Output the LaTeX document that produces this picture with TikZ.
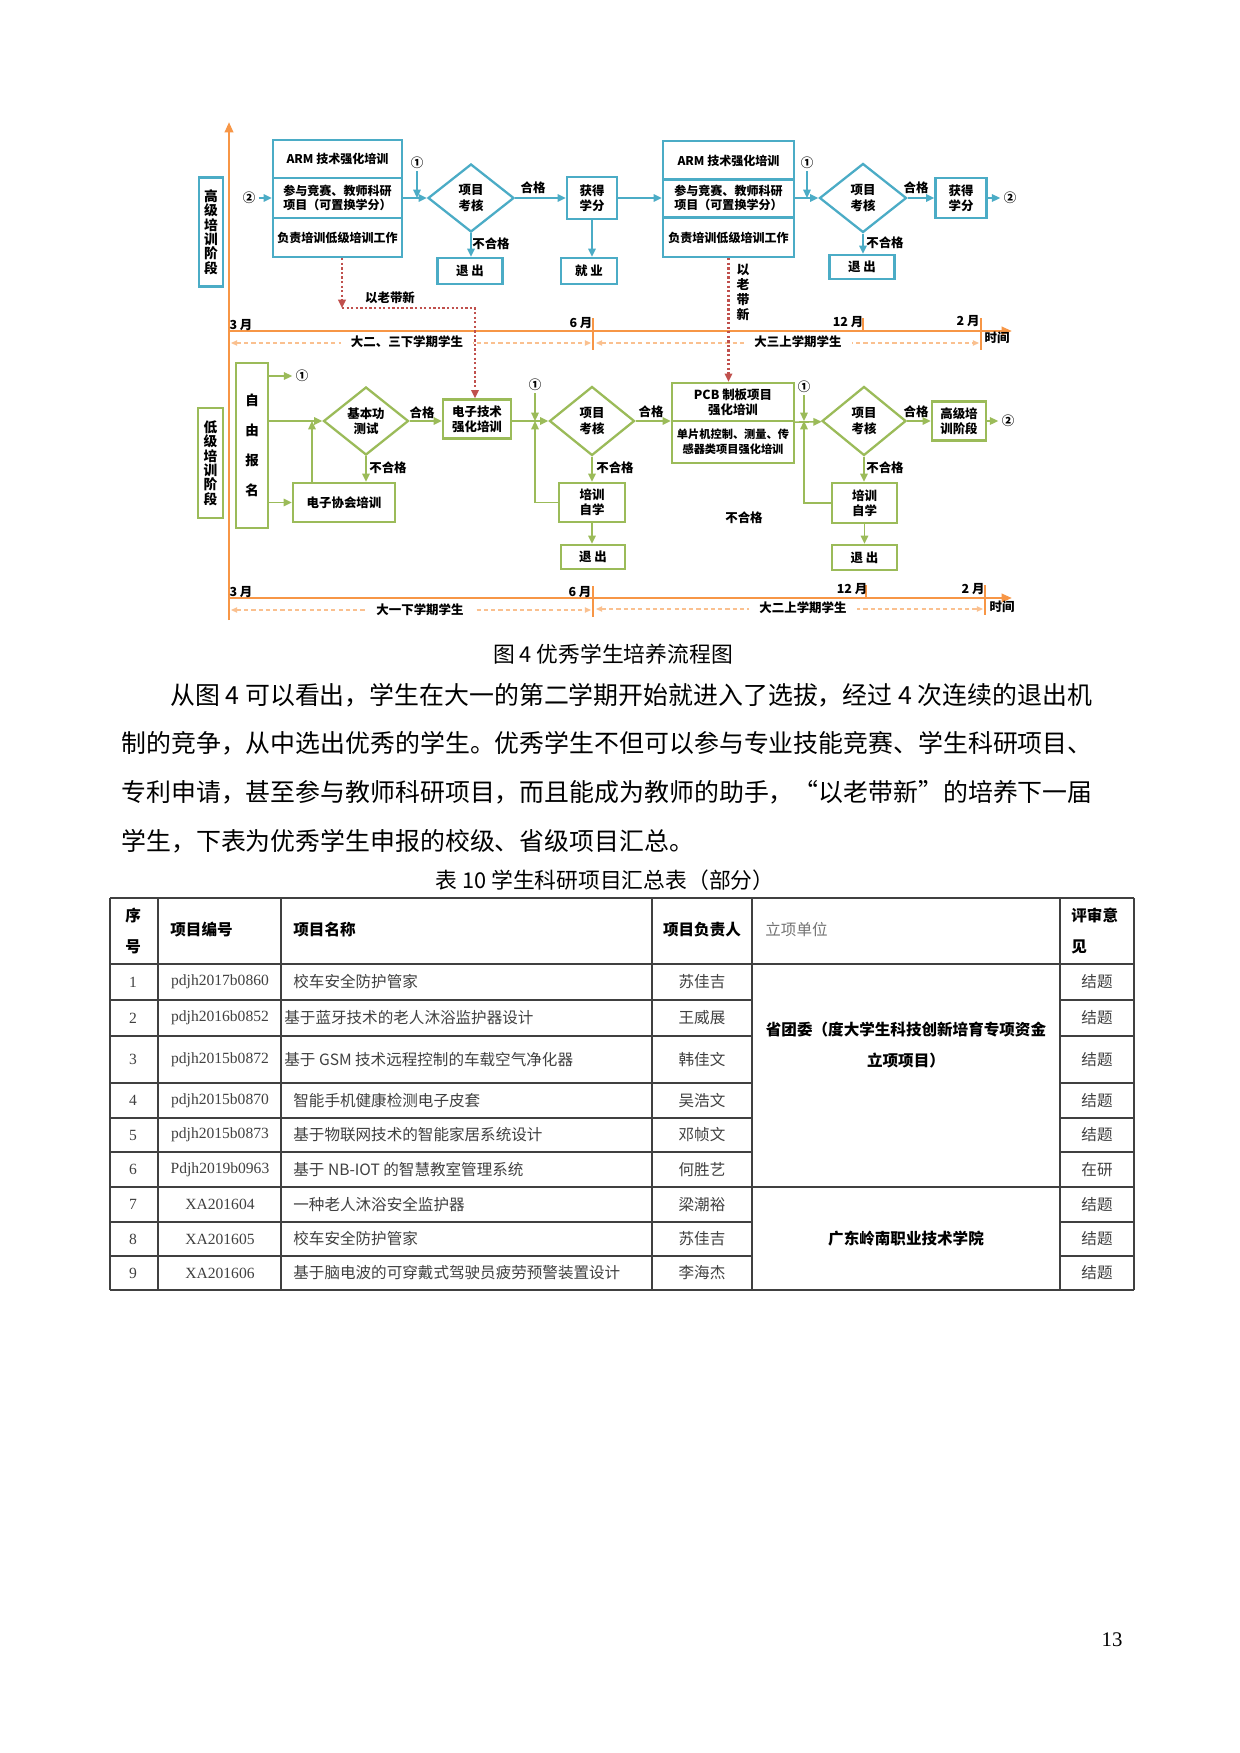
\documentclass[tikz,border=0pt]{standalone}
\usepackage{fontspec}
\setmainfont{Noto Sans CJK SC}
\newfontfamily\latinserif{Liberation Serif}
\usetikzlibrary{arrows.meta,shapes.geometric}
\definecolor{armblue}{HTML}{4BACC6}
\definecolor{lowgreen}{HTML}{9BBB59}
\definecolor{axisorange}{HTML}{F79646}
\definecolor{spanorange}{HTML}{FAC08F}
\definecolor{mentorred}{HTML}{C0504D}
\newcommand{\pxu}{0.16935mm}
\newcommand{\fullq}[1]{{\addfontfeature{CharacterWidth=Full}#1}}

\begin{document}
\begin{tikzpicture}[x=0.16935mm,y=-0.16935mm]
  \tikzset{every node/.style={inner sep=0pt}}
  \tikzset{dg/.style={font=\fontsize{6}{7.3}\selectfont\bfseries, align=center}}
  \tikzset{armtxt/.style={font=\fontsize{5.8}{7}\selectfont\bfseries}}
  \tikzset{stagetxt/.style={font=\fontsize{6.6}{6.9}\selectfont\bfseries}}
  \tikzset{sz/.style 2 args={minimum width=#1*\pxu, minimum height=#2*\pxu}}
  \tikzset{bbox/.style={dg, draw=armblue, line width=1.1pt}}
  \tikzset{gbox/.style={dg, draw=lowgreen, line width=1.1pt}}
  \tikzset{bdia/.style={bbox, diamond, aspect=1.25}}
  \tikzset{gdia/.style={gbox, diamond, aspect=1.25}}
  \tikzset{bflow/.style={armblue, line width=0.8pt, -{Triangle[length=4pt,width=3.6pt]}}}
  \tikzset{gflow/.style={lowgreen, line width=0.8pt, -{Triangle[length=4pt,width=3.6pt]}}}
  \tikzset{mentor/.style={mentorred, line width=1pt, dash pattern=on 1.1pt off 1.1pt, -{Triangle[length=4pt,width=3.6pt]}}}
  \tikzset{axis/.style={axisorange, line width=1.2pt}}
  \tikzset{span/.style={spanorange, line width=0.6pt, dash pattern=on 2pt off 1.5pt, {Triangle[length=3pt,width=2.6pt]}-{Triangle[length=3pt,width=2.6pt]}}}
  \tikzset{tl/.style={font=\fontsize{6}{7}\selectfont\bfseries}}
  \tikzset{body/.style={font=\fontsize{12}{14}\selectfont, anchor=west}}
  \tikzset{tline/.style={black!75, line width=0.6pt}}
  \tikzset{th/.style={font=\fontsize{7.5}{15.4}\selectfont\bfseries, align=left}}
  \tikzset{tb/.style={font=\fontsize{7.5}{9}\selectfont, text=black!75}}

  \path[fill=white, use as bounding box] (0,0) rectangle (1240,1753);

  \coordinate (axbot) at (229,620);
  \coordinate (axtop) at (229,122);
  \draw[axis, -{Triangle[length=5pt,width=4pt]}] (axbot) -- (axtop);

  \node[bbox, stagetxt, sz={24}{109}] (hstage) at (211,232) {高\\级\\培\\训\\阶\\段};
  \node[bbox, armtxt, sz={129}{38}] (armaT) at (337.5,159) {ARM 技术强化培训};
  \node[bbox, armtxt, sz={129}{40}] (armaM) at (337.5,198) {参与竞赛、教师科研\\项目（可置换学分）};
  \node[bbox, armtxt, sz={129}{39}] (armaB) at (337.5,237.5) {负责培训低级培训工作};
  \node[dg] (c2a) at (249,198) {②};
  \node[dg] (c1a) at (417,163) {①};
  \coordinate (j1) at (417,198);
  \node[bdia, sz={86}{68}] (dia1) at (471,198) {项目\\考核};
  \node[dg] (ok1) at (533,188) {合格};
  \node[bbox, sz={50}{42}] (cred1) at (592,198) {获得\\学分};
  \node[dg] (nok1) at (491,244) {不合格};
  \node[bbox, sz={65}{26}] (exit1) at (470,271) {退\ 出};
  \node[bbox, sz={56}{26}] (job) at (589,271) {就\ 业};

  \node[bbox, armtxt, sz={131}{39}] (armbT) at (728.5,160.5) {ARM 技术强化培训};
  \node[bbox, armtxt, sz={131}{38}] (armbM) at (728.5,198) {参与竞赛、教师科研\\项目（可置换学分）};
  \node[bbox, armtxt, sz={131}{39}] (armbB) at (728.5,237.5) {负责培训低级培训工作};
  \node[dg] (c1b) at (807,163) {①};
  \coordinate (j2) at (807,198);
  \node[bdia, sz={87}{69}] (dia2) at (863,198) {项目\\考核};
  \node[dg] (ok2) at (916,188) {合格};
  \node[bbox, sz={51}{40}] (cred2) at (961,198) {获得\\学分};
  \node[dg] (c2b) at (1010,198) {②};
  \node[dg] (nok2) at (885,243) {不合格};
  \node[bbox, sz={65}{24}] (exit2) at (862,267) {退\ 出};

  \draw[bflow, shorten <=1.5pt] (c2a) -- (armaM);
  \draw[bflow] (armaM) -- (dia1);
  \draw[bflow, shorten <=1pt] (c1a) -- (j1);
  \draw[bflow] (dia1) -- (cred1);
  \draw[bflow] (dia1.south) -- (dia1.south |- exit1.north);
  \draw[bflow] (cred1.south) -- (cred1.south |- job.north);
  \draw[bflow] (cred1) -- (armbM);
  \draw[bflow] (armbM) -- (dia2);
  \draw[bflow, shorten <=1pt] (c1b) -- (j2);
  \draw[bflow] (dia2) -- (cred2);
  \draw[bflow, shorten >=1.5pt] (cred2) -- (c2b);
  \draw[bflow] (dia2.south) -- (dia2.south |- exit2.north);

  \coordinate (ut0) at (229,331);
  \coordinate (ut1) at (1012,331);
  \draw[axis, -{Triangle[length=5pt,width=4pt]}] (ut0) -- (ut1);
  \foreach \tx/\ta/\tb in {593/318/350, 863/318/331, 981/318/350}
    \draw[axis, line width=1pt] (\tx,\ta) -- (\tx,\tb);
  \node[tl] (um3) at (241,325) {3 月};
  \node[tl] (um6) at (581,323) {6 月};
  \node[tl] (um12) at (848,322) {12 月};
  \node[tl] (um2) at (968,321) {2 月};
  \draw[span] (231,343) -- (591,343);
  \draw[span] (596,343) -- (979,343);
  \node[tl, fill=white, inner xsep=5pt] (ustu1) at (407,342) {大二、三下学期学生};
  \node[tl, fill=white, inner xsep=5pt] (ustu2) at (798,342) {大三上学期学生};
  \node[tl] (utime) at (997,338) {时间};

  \node[gbox, stagetxt, sz={25}{110}] (lstage) at (210.5,463) {低\\级\\培\\训\\阶\\段};
  \node[gbox, sz={32}{165}, font=\fontsize{6.5}{14.4}\selectfont\bfseries] (signup) at (252,445.5) {自\\由\\报\\名};
  \node[dg] (c1c) at (302,376) {①};
  \coordinate (j3) at (312,421);
  \node[gdia, sz={85}{68}] (dia3) at (366,421) {基本功\\测试};
  \node[gbox, sz={102}{39}] (assoc) at (344,502.5) {电子协会培训};
  \node[dg] (nok3) at (388,468) {不合格};
  \node[dg] (ok3) at (422,413) {合格};
  \node[gbox, sz={68}{39}] (etrain) at (477,419) {电子技术\\强化培训};
  \node[dg] (c1d) at (535,385) {①};
  \coordinate (j4) at (535,421);
  \node[gdia, sz={85}{69}] (dia4) at (592,421) {项目\\考核};
  \node[dg] (nok4) at (615,468) {不合格};
  \node[gbox, sz={66}{39}] (selfa) at (592,502.5) {培训\\自学};
  \node[gbox, sz={64}{24}] (exit3) at (593,557) {退\ 出};
  \node[dg] (ok4) at (651,412) {合格};
  \node[gbox, sz={122}{38}] (pcbT) at (733,402) {PCB 制板项目\\强化培训};
  \node[gbox, sz={122}{42}, font=\fontsize{5.4}{7}\selectfont\bfseries] (pcbB) at (733,442) {单片机控制、测量、传\\感器类项目强化培训};
  \node[dg] (c1e) at (804,387) {①};
  \coordinate (j5) at (804,421);
  \node[gdia, sz={84}{69}] (dia5) at (864,421) {项目\\考核};
  \node[dg] (ok5) at (916,412) {合格};
  \node[gbox, sz={54}{39}] (hi) at (959,421) {高级培\\训阶段};
  \node[dg] (c2c) at (1008,421) {②};
  \node[dg] (nok5) at (885,468) {不合格};
  \node[gbox, sz={65}{40}] (selfb) at (864.5,503) {培训\\自学};
  \node[gbox, sz={65}{25}] (exit4) at (864.5,557.5) {退\ 出};
  \node[dg] (nok6) at (744,518) {不合格};

  \draw[gflow, shorten >=1.5pt] (signup.east |- c1c) -- (c1c);
  \draw[gflow] (signup.east |- dia3) -- (dia3);
  \draw[gflow] (signup.east |- assoc) -- (assoc);
  \draw[gflow] (assoc.north -| j3) -- (j3);
  \draw[gflow] (dia3.south) -- (dia3.south |- assoc.north);
  \draw[gflow] (dia3) -- (dia3 -| etrain.west);
  \draw[gflow] (etrain.east |- dia4) -- (dia4);
  \draw[gflow, shorten <=1pt] (c1d) -- (j4);
  \draw[gflow] (selfa.west) -| (j4);
  \draw[gflow] (dia4.south) -- (dia4.south |- selfa.north);
  \draw[gflow] (selfa.south) -- (selfa.south |- exit3.north);
  \draw[gflow] (dia4) -- (dia4 -| pcbT.west);
  \draw[gflow] (pcbT.south east) -- (dia5);
  \draw[gflow, shorten <=1pt] (c1e) -- (j5);
  \draw[gflow] (selfb.west) -| (j5);
  \draw[gflow] (dia5) -- (hi);
  \draw[gflow, shorten >=1.5pt] (hi) -- (c2c);
  \draw[gflow] (dia5.south) -- (dia5.south |- selfb.north);
  \draw[gflow] (selfb.south) -- (selfb.south |- exit4.north);

  \coordinate (bend1) at (342,308);
  \coordinate (drop1) at (475,308);
  \draw[mentor] (armaB.south -| bend1) -- (bend1);
  \draw[mentor] (bend1) -- (drop1) -- (drop1 |- etrain.north);
  \node[dg] (mentor1) at (390,298) {以老带新};
  \draw[mentor] (armbB.south) -- (armbB.south |- pcbT.north);
  \node[dg, font=\fontsize{6.2}{7.2}\selectfont\bfseries] (mentor2) at (743,292) {以\\老\\带\\新};

  \coordinate (lt0) at (229,598);
  \coordinate (lt1) at (1012,598);
  \draw[axis, -{Triangle[length=5pt,width=4pt]}] (lt0) -- (lt1);
  \foreach \tx/\ta/\tb in {593/586/617, 866/585/598, 985/585/615}
    \draw[axis, line width=1pt] (\tx,\ta) -- (\tx,\tb);
  \node[tl] (lm3) at (241,592) {3 月};
  \node[tl] (lm6) at (580,592) {6 月};
  \node[tl] (lm12) at (852,589) {12 月};
  \node[tl] (lm2) at (973,589) {2 月};
  \draw[span] (231,610) -- (591,610);
  \draw[span] (596,609) -- (983,609);
  \node[tl, fill=white, inner xsep=5pt] (lstu1) at (420,610) {大一下学期学生};
  \node[tl, fill=white, inner xsep=5pt] (lstu2) at (803,608) {大二上学期学生};
  \node[tl] (ltime) at (1002,607) {时间};

  \node[font=\fontsize{10.5}{12}\selectfont] (figcap) at (613,654) {图 4 优秀学生培养流程图};
  \node[body] (line1) at (170,695) {从图 4 可以看出，学生在大一的第二学期开始就进入了选拔，经过 4 次连续的退出机};
  \node[body] (line2) at (121,743) {制的竞争，从中选出优秀的学生。优秀学生不但可以参与专业技能竞赛、学生科研项目、};
  \node[body] (line3) at (121,792) {专利申请，甚至参与教师科研项目，而且能成为教师的助手，\fullq{“}以老带新\fullq{”}的培养下一届};
  \node[body] (line4) at (121,841) {学生，下表为优秀学生申报的校级、省级项目汇总。};
  \node[font=\fontsize{10.5}{12}\selectfont] (tabcap) at (605,880) {表 10 学生科研项目汇总表（部分）};

  \foreach \xx in {110,158,281,652,752,1060,1134}
    \draw[tline] (\xx,898) -- (\xx,1290);
  \foreach \yy in {898,964,1187,1290}
    \draw[tline] (110,\yy) -- (1134,\yy);
  \foreach \yy in {1000,1036,1083,1118,1152,1222,1256} {
    \draw[tline] (110,\yy) -- (752,\yy);
    \draw[tline] (1060,\yy) -- (1134,\yy);
  }

  \node[th, anchor=west] (hno) at (125,931) {序\\号};
  \node[th, anchor=west] (hcode) at (170,930) {项目编号};
  \node[th, anchor=west] (hname) at (293,930) {项目名称};
  \node[th] (hlead) at (702,930) {项目负责人};
  \node[tb, anchor=west, text=black!55] (hunit) at (765,930) {立项单位};
  \node[th, anchor=west] (hres) at (1071,931) {评审意\\见};

  \foreach \rno/\yy/\code/\tx/\ptitle/\lead/\res in {
      1/982/pdjh2017b0860/293/校车安全防护管家/苏佳吉/结题,
      2/1018/pdjh2016b0852/284/基于蓝牙技术的老人沐浴监护器设计/王威展/结题,
      3/1059.5/pdjh2015b0872/284/基于 GSM 技术远程控制的车载空气净化器/韩佳文/结题,
      4/1100.5/pdjh2015b0870/293/智能手机健康检测电子皮套/吴浩文/结题,
      5/1135/pdjh2015b0873/293/基于物联网技术的智能家居系统设计/邓帧文/结题,
      6/1169.5/Pdjh2019b0963/293/基于 NB-IOT 的智慧教室管理系统/何胜艺/在研,
      7/1204.5/XA201604/293/一种老人沐浴安全监护器/梁潮裕/结题,
      8/1239/XA201605/293/校车安全防护管家/苏佳吉/结题,
      9/1273/XA201606/293/基于脑电波的可穿戴式驾驶员疲劳预警装置设计/李海杰/结题} {
    \node[tb] (no\rno) at (133,\yy) {\latinserif\rno};
    \node[tb] (code\rno) at (220,\yy) {\latinserif\code};
    \node[tb, anchor=west] (title\rno) at (\tx,\yy) {\ptitle};
    \node[tb] (lead\rno) at (702,\yy) {\lead};
    \node[tb] (res\rno) at (1097,\yy) {\res};
  }
  \node[th, align=center, text=black] (unitA) at (906,1045) {省团委（度大学生科技创新培育专项资金\\立项项目）};
  \node[th, text=black] (unitB) at (906,1239) {广东岭南职业技术学院};

  \node[font=\latinserif\fontsize{10}{12}\selectfont] (pageno) at (1112,1640) {13};
\end{tikzpicture}
\end{document}
